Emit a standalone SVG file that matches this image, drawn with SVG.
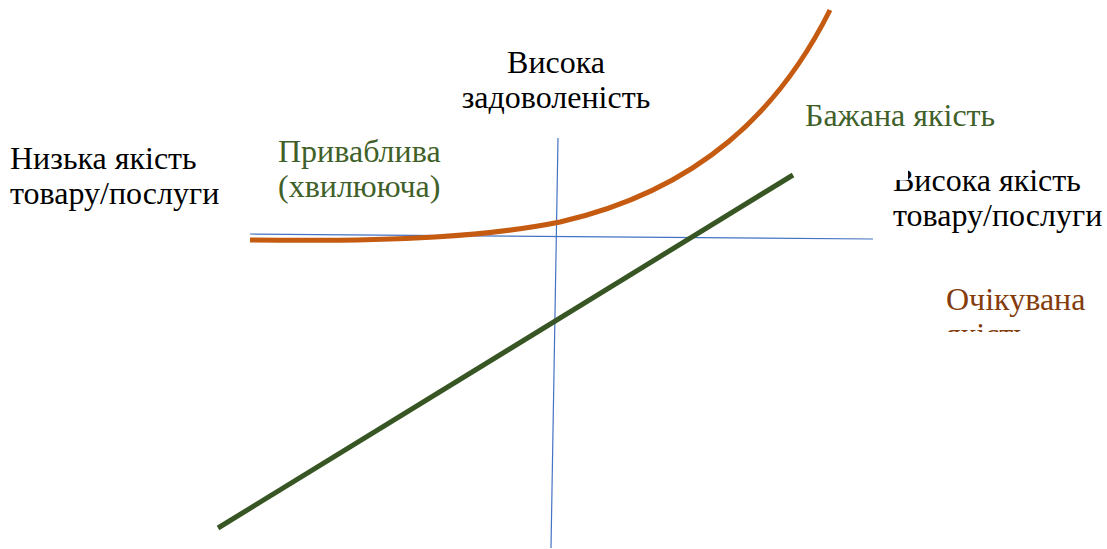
<svg xmlns="http://www.w3.org/2000/svg" width="1107" height="549" viewBox="0 0 1107 549">
<style>
.t{font-family:'Liberation Serif','DejaVu Serif',serif;font-size:32px}
.blk{fill:#000}
.grn{fill:#3F6129}
.brn{fill:#843C0C}
.axis{stroke:#4472C4;stroke-width:1.2;fill:none}
</style>
<defs>
<clipPath id="clipHQ"><rect x="880" y="180" width="227" height="60"/><rect x="908" y="160" width="199" height="80"/></clipPath>
<clipPath id="clipExp"><rect x="930" y="280" width="177" height="52"/></clipPath>
</defs>
<rect width="1107" height="549" fill="#fff"/>
<g id="connectors">
<line class="axis" x1="250" y1="234" x2="873" y2="239"/>
<line class="axis" x1="558" y1="138" x2="551" y2="548"/>
<path d="M250,240 C400,242 490,236 560,222 C700,190 780,110 830,10" fill="none" stroke="#C55A11" stroke-width="5"/>
<line x1="218" y1="528" x2="793" y2="175" stroke="#375623" stroke-width="5"/>
</g>
<g id="high-satisfaction">
<text class="t blk" x="556" y="73" text-anchor="middle">Висока</text>
<text class="t blk" x="556" y="108" text-anchor="middle">задоволеність</text>
</g>
<g id="low-quality">
<text class="t blk" x="10" y="169">Низька якість</text>
<text class="t blk" x="10" y="204">товару/послуги</text>
</g>
<g id="attractive">
<text class="t grn" x="278" y="162">Приваблива</text>
<text class="t grn" x="278" y="197">(хвилююча)</text>
</g>
<g id="desired">
<text class="t grn" x="805" y="126">Бажана якість</text>
</g>
<g id="high-quality" clip-path="url(#clipHQ)">
<text class="t blk" x="893" y="191">Висока якість</text>
<text class="t blk" x="893" y="226">товару/послуги</text>
</g>
<g id="expected" clip-path="url(#clipExp)">
<text class="t brn" x="946" y="310">Очікувана</text>
<text class="t brn" x="946" y="345">якість</text>
</g>
</svg>
